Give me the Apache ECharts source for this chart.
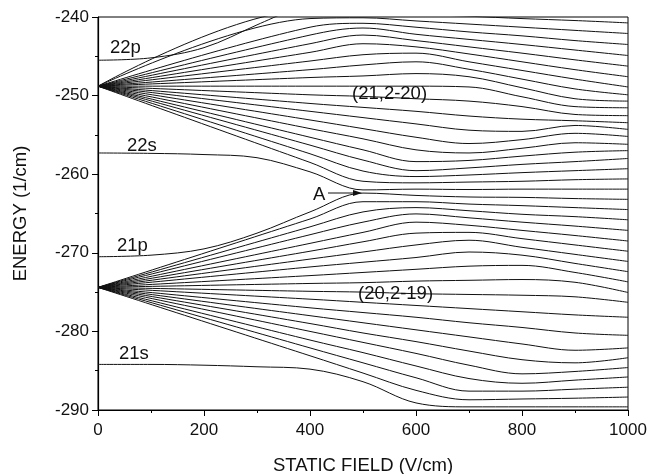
<!DOCTYPE html>
<html>
<head>
<meta charset="utf-8">
<script src="https://cdn.jsdelivr.net/npm/echarts@6/dist/echarts.min.js"></script>
<style>
html, body { margin: 0; padding: 0; background: #fff; }
#box { width: 650px; height: 474px; }
</style>
</head>
<body>
<div id="box"></div>
<script>
// field columns (V/cm) at which the energies below were read
var field = [0, 100, 200, 300, 400, 500, 600, 700, 800, 900, 1000];

// single levels (1/cm)
var level21s = [-284.2, -284.2, -284.3, -284.5, -284.8, -286.4, -289.1, -289.6, -289.6, -289.6, -289.6];
var level21p = [-270.5, -270.3, -269.5, -267.5, -264.8, -262.4, -262.7, -262.9, -262.95, -263.1, -263.2];
var level22s = [-257.3, -257.35, -257.5, -257.9, -259.7, -262.0, -261.9, -261.95, -261.9, -261.9, -261.9];
var level22p = [-245.5, -245.2, -243.9, -241.0, -238.0, null, null, null, null, null, null];

// (20, 2-19) manifold, bottom to top
var manifold20 = [
    [-274.4, null, null, null, -283.1, -285.3, -287.5, -288.7, -288.6, -288.5, -288.35],
    [-274.4, null, null, null, -282.1, -284.0, -285.9, -287.6, -287.6, -287.35, -287.1],
    [-274.4, null, null, null, -281.1, -282.7, -284.4, -286.0, -286.6, -286.2, -285.8],
    [-274.4, null, null, null, -280.0, -281.4, -282.8, -284.3, -285.4, -285.1, -284.6],
    [-274.4, null, null, null, -279.0, -280.2, -281.3, -282.5, -283.6, -284.0, -283.35],
    [-274.4, null, null, null, -278.0, -278.9, -279.8, -280.7, -281.6, -282.4, -282.1],
    [-274.4, null, null, null, -277.0, -277.6, -278.2, -278.9, -279.5, -280.2, -280.5],
    [-274.4, null, null, null, -275.9, -276.3, -276.7, -277.1, -277.5, -277.9, -278.2],
    [-274.4, null, null, null, -274.9, -275.0, -275.2, -275.3, -275.4, -275.6, -276.3],
    [-274.4, null, null, null, -273.9, -273.8, -273.6, -273.5, -273.4, -273.75, -275.05],
    [-274.4, null, null, null, -272.9, -272.5, -272.1, -271.7, -271.6, -272.5, -273.7],
    [-274.4, null, null, null, -271.8, -271.2, -270.6, -269.9, -270.3, -271.35, -272.4],
    [-274.4, null, null, null, -270.8, -269.9, -269.0, -268.4, -269.3, -270.2, -271.1],
    [-274.4, null, null, null, -269.8, -268.6, -267.5, -267.4, -268.2, -269.0, -269.8],
    [-274.4, null, null, null, -268.8, -267.4, -266.1, -266.5, -267.15, -267.8, -268.5],
    [-274.4, null, null, null, -267.7, -266.1, -265.05, -265.55, -266.1, -266.6, -267.15],
    [-274.4, null, null, null, -266.7, -264.8, -264.25, -264.65, -265.1, -265.4, -265.8],
    [-274.4, null, null, null, -265.7, -263.5, -263.5, -263.8, -264.0, -264.25, -264.5]
];

// (21, 2-20) manifold, bottom to top
var manifold21 = [
    [-248.8, null, null, null, -258.5, -260.9, -261.1, -261.0, -260.9, -260.7, -260.6],
    [-248.8, null, null, null, -257.4, -259.6, -260.3, -260.1, -259.8, -259.55, -259.3],
    [-248.8, null, null, null, -256.3, -258.2, -259.55, -259.2, -258.75, -258.4, -258.0],
    [-248.8, null, null, null, -255.3, -256.9, -258.4, -258.25, -257.7, -257.2, -257.0],
    [-248.8, null, null, null, -254.2, -255.5, -256.9, -257.3, -256.7, -256.0, -256.2],
    [-248.8, null, null, null, -253.1, -254.2, -255.3, -256.1, -255.6, -254.8, -255.2],
    [-248.8, null, null, null, -252.0, -252.8, -253.6, -254.4, -254.55, -253.8, -254.3],
    [-248.8, null, null, null, -251.0, -251.5, -252.0, -252.6, -253.0, -253.2, -253.45],
    [-248.8, null, null, null, -249.9, -250.1, -250.4, -250.7, -251.4, -252.4, -252.55],
    [-248.8, null, null, null, -248.8, -248.8, -248.8, -248.9, -250.15, -251.4, -251.55],
    [-248.8, null, null, null, -247.7, -247.5, -247.2, -247.6, -249.0, -250.4, -250.7],
    [-248.8, null, null, null, -246.7, -246.1, -245.7, -246.65, -247.9, -249.15, -249.9],
    [-248.8, null, null, null, -245.6, -244.8, -244.6, -245.7, -246.8, -247.9, -248.9],
    [-248.8, null, null, null, -244.5, -243.4, -243.8, -244.7, -245.7, -246.7, -247.6],
    [-248.8, null, null, null, -243.4, -242.3, -243.0, -243.8, -244.6, -245.45, -246.25],
    [-248.8, null, null, null, -242.3, -241.4, -242.2, -242.85, -243.5, -244.2, -244.9],
    [-248.8, null, null, null, -241.3, -240.8, -241.3, -241.9, -242.4, -243.0, -243.5],
    [-248.8, null, null, null, -240.2, -240.1, -240.5, -240.9, -241.3, -241.7, -242.1],
    [-248.8, null, null, null, -239.1, -239.4, -239.65, -239.9, -240.2, -240.45, -240.75]
];

var energyTicks = [-290, -280, -270, -260, -250, -240];
var fieldTicks = [0, 200, 400, 600, 800, 1000];

var font = 'Liberation Sans, Arial, sans-serif';

function curve(vals) {
    var pts = [];
    for (var i = 0; i < field.length; i++) {
        if (vals[i] !== null) pts.push([field[i], vals[i]]);
    }
    return {
        type: 'line',
        data: pts,
        showSymbol: false,
        symbol: 'none',
        smooth: 0.35,
        silent: true,
        clip: true,
        lineStyle: { color: '#111', width: 1 }
    };
}

var allCurves = [level21s, level21p, level22s, level22p].concat(manifold20, manifold21);
var series = allCurves.map(curve);

var myChart = echarts.init(document.getElementById('box'), null, { renderer: 'canvas' });
var option = {
    animation: false,
    backgroundColor: '#fff',
    grid: {
        left: 98, right: 22, top: 17, bottom: 64,
        containLabel: false,
        outerBoundsMode: 'none',
        show: true, borderColor: '#000', borderWidth: 1
    },
    xAxis: {
        type: 'value',
        min: fieldTicks[0],
        max: fieldTicks[fieldTicks.length - 1],
        interval: 200,
        name: 'STATIC FIELD (V/cm)',
        nameLocation: 'middle',
        nameGap: 46,
        nameTextStyle: { fontFamily: font, fontSize: 18.5, color: '#111' },
        axisLine: { onZero: false, lineStyle: { color: '#000', width: 1.2 } },
        axisTick: { inside: false, length: 6, lineStyle: { color: '#000' } },
        minorTick: { show: true, splitNumber: 2, length: 3, lineStyle: { color: '#000' } },
        splitLine: { show: false },
        axisLabel: {
            fontFamily: font, fontSize: 17, color: '#111', margin: 12,
            formatter: function (v) { return String(v); }
        }
    },
    yAxis: {
        type: 'value',
        min: energyTicks[0],
        max: energyTicks[energyTicks.length - 1],
        interval: 10,
        name: 'ENERGY (1/cm)',
        nameLocation: 'middle',
        nameGap: 68,
        nameTextStyle: { fontFamily: font, fontSize: 18.5, color: '#111' },
        axisLine: { onZero: false, lineStyle: { color: '#000', width: 1.2 } },
        axisTick: { inside: false, length: 6, lineStyle: { color: '#000' } },
        minorTick: { show: true, splitNumber: 2, length: 3, lineStyle: { color: '#000' } },
        splitLine: { show: false },
        axisLabel: {
            fontFamily: font, fontSize: 17, color: '#111', margin: 9,
            formatter: function (v) { return String(v); }
        }
    },
    graphic: [
        { type: 'text', left: 110, top: 38, style: { text: '22p', font: '18.5px ' + font, fill: '#111' } },
        { type: 'text', left: 127, top: 136, style: { text: '22s', font: '18.5px ' + font, fill: '#111' } },
        { type: 'text', left: 117, top: 236, style: { text: '21p', font: '18.5px ' + font, fill: '#111' } },
        { type: 'text', left: 119, top: 344, style: { text: '21s', font: '18.5px ' + font, fill: '#111' } },
        { type: 'text', left: 352, top: 84, style: { text: '(21,2-20)', font: '18.5px ' + font, fill: '#111' } },
        { type: 'text', left: 358, top: 284, style: { text: '(20,2-19)', font: '18.5px ' + font, fill: '#111' } },
        { type: 'text', left: 313, top: 185, style: { text: 'A', font: '18.5px ' + font, fill: '#111' } },
        { type: 'line', shape: { x1: 328, y1: 193, x2: 354, y2: 193 }, style: { stroke: '#111', lineWidth: 1 } },
        { type: 'polygon', shape: { points: [[362, 193], [353, 190], [353, 196]] }, style: { fill: '#111' } }
    ],
    series: series
};
myChart.setOption(option);
</script>
</body>
</html>
